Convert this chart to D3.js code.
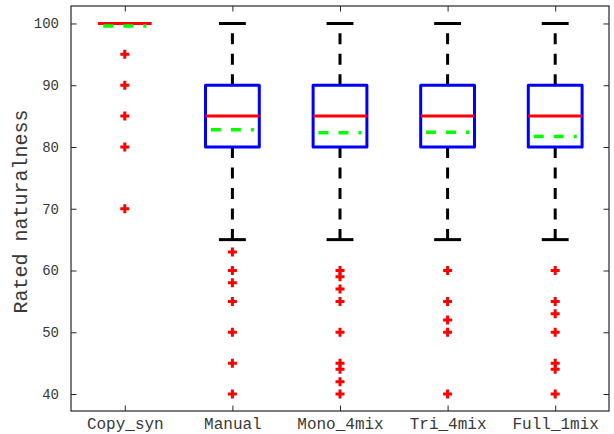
<!DOCTYPE html>
<html>
<head>
<meta charset="utf-8">
<script src="https://cdn.jsdelivr.net/npm/d3@7"></script>
<style>
  html, body { margin: 0; padding: 0; background: #fff; }
  svg { display: block; }
  text { font-family: "Liberation Mono", "DejaVu Sans Mono", monospace; fill: #383838; }
</style>
</head>
<body>
<svg id="chart" width="614" height="434"></svg>
<script>
// Naturalness ratings per system: box statistics, means and outliers
const categories = ["Copy_syn", "Manual", "Mono_4mix", "Tri_4mix", "Full_1mix"];
const q1Values = [100, 80, 80, 80, 80];
const medianValues = [100, 85, 85, 85, 85];
const q3Values = [100, 90, 90, 90, 90];
const whiskerLow = [100, 65, 65, 65, 65];
const whiskerHigh = [100, 100, 100, 100, 100];
const meanValues = [99.6, 82.8, 82.3, 82.4, 81.7];
const outlierValues = [
  [95, 90, 85, 80, 70],
  [63, 60, 58, 55, 50, 45, 40],
  [60, 59, 57, 55, 50, 45, 44, 42, 40],
  [60, 55, 52, 50, 40],
  [60, 55, 53, 50, 45, 44, 40]
];
const yTicks = [40, 50, 60, 70, 80, 90, 100];
const yLabel = "Rated naturalness";

const svg = d3.select("#chart");
const plot = { left: 71, right: 609, top: 6, bottom: 411 };

const x = d3.scaleLinear().domain([0.5, categories.length + 0.5]).range([plot.left, plot.right]);
const y = d3.scaleLinear().domain([37.25, 102.83]).range([plot.bottom, plot.top]);

const boxHalf = 0.25, capHalf = 0.125, meanHalf = 0.2, tick = 5.5;
const axisColor = "#262626";

// Axes: labelled left/bottom, tick-only right/top, all ticks pointing inward
const styleAxis = g => {
  g.select(".domain").remove();
  g.selectAll(".tick line").attr("stroke", axisColor);
};
svg.append("g").attr("transform", `translate(${plot.left},0)`)
  .call(d3.axisLeft(y).tickValues(yTicks).tickSizeInner(-tick).tickSizeOuter(0).tickPadding(12))
  .call(styleAxis)
  .selectAll("text").style("font-size", "14px").attr("font-family", null);
svg.append("g").attr("transform", `translate(${plot.right},0)`)
  .call(d3.axisRight(y).tickValues(yTicks).tickSizeInner(-tick).tickSizeOuter(0).tickFormat(""))
  .call(styleAxis);
const catPos = categories.map((c, i) => i + 1);
svg.append("g").attr("transform", `translate(0,${plot.bottom})`)
  .call(d3.axisBottom(x).tickValues(catPos).tickFormat((d, i) => categories[i])
        .tickSizeInner(-tick).tickSizeOuter(0).tickPadding(7))
  .call(styleAxis)
  .selectAll("text").style("font-size", "16px").attr("font-family", null);
svg.append("g").attr("transform", `translate(0,${plot.top})`)
  .call(d3.axisTop(x).tickValues(catPos).tickSizeInner(-tick).tickSizeOuter(0).tickFormat(""))
  .call(styleAxis);

// Frame
svg.append("rect")
  .attr("x", plot.left).attr("y", plot.top)
  .attr("width", plot.right - plot.left).attr("height", plot.bottom - plot.top)
  .attr("fill", "none").attr("stroke", axisColor).attr("stroke-width", 1.2);

// Y axis title
svg.append("text")
  .attr("transform", `translate(26.5,${(plot.top + plot.bottom) / 2 + 3}) rotate(-90)`)
  .attr("text-anchor", "middle")
  .style("font-size", "20px")
  .text(yLabel);

const data = categories.map((c, i) => ({
  pos: i + 1, q1: q1Values[i], med: medianValues[i], q3: q3Values[i],
  lo: whiskerLow[i], hi: whiskerHigh[i], mean: meanValues[i], out: outlierValues[i]
}));

const groups = svg.append("g").selectAll("g").data(data).join("g");

// Whiskers: dashed lines running out from the box edges, with end caps
groups.each(function(d) {
  const g = d3.select(this);
  [[d.q3, d.hi], [d.q1, d.lo]].forEach(([from, to]) => {
    if (from === to) return;
    g.append("line")
      .attr("x1", x(d.pos)).attr("x2", x(d.pos))
      .attr("y1", y(from)).attr("y2", y(to))
      .attr("stroke", "#000").attr("stroke-width", 3)
      .attr("stroke-dasharray", "11,9.5");
  });
  [d.hi, d.lo].forEach(v => {
    g.append("line")
      .attr("x1", x(d.pos - capHalf)).attr("x2", x(d.pos + capHalf))
      .attr("y1", y(v)).attr("y2", y(v))
      .attr("stroke", "#000").attr("stroke-width", 3);
  });
});

// Boxes
groups.append("rect")
  .attr("x", d => x(d.pos - boxHalf))
  .attr("y", d => y(d.q3))
  .attr("width", d => x(d.pos + boxHalf) - x(d.pos - boxHalf))
  .attr("height", d => y(d.q1) - y(d.q3))
  .attr("fill", "none").attr("stroke", "#0000ff").attr("stroke-width", 3)
  .attr("stroke-linejoin", "round");

// Medians
groups.append("line")
  .attr("x1", d => x(d.pos - boxHalf)).attr("x2", d => x(d.pos + boxHalf))
  .attr("y1", d => y(d.med)).attr("y2", d => y(d.med))
  .attr("stroke", "#ff0000").attr("stroke-width", 3);

// Means
groups.append("line")
  .attr("x1", d => x(d.pos - meanHalf)).attr("x2", d => x(d.pos + meanHalf))
  .attr("y1", d => y(d.mean)).attr("y2", d => y(d.mean))
  .attr("stroke", "#00ff00").attr("stroke-width", 3.5)
  .attr("stroke-dasharray", "10,10");

// Outliers as red plus markers
const arm = 4.5;
groups.each(function(d) {
  d3.select(this).selectAll("path.out").data(d.out).join("path")
    .attr("class", "out")
    .attr("d", v => {
      const cx = x(d.pos), cy = y(v);
      return `M${cx - arm},${cy}H${cx + arm}M${cx},${cy - arm}V${cy + arm}`;
    })
    .attr("stroke", "#ff0000").attr("stroke-width", 3).attr("fill", "none");
});
</script>
</body>
</html>
